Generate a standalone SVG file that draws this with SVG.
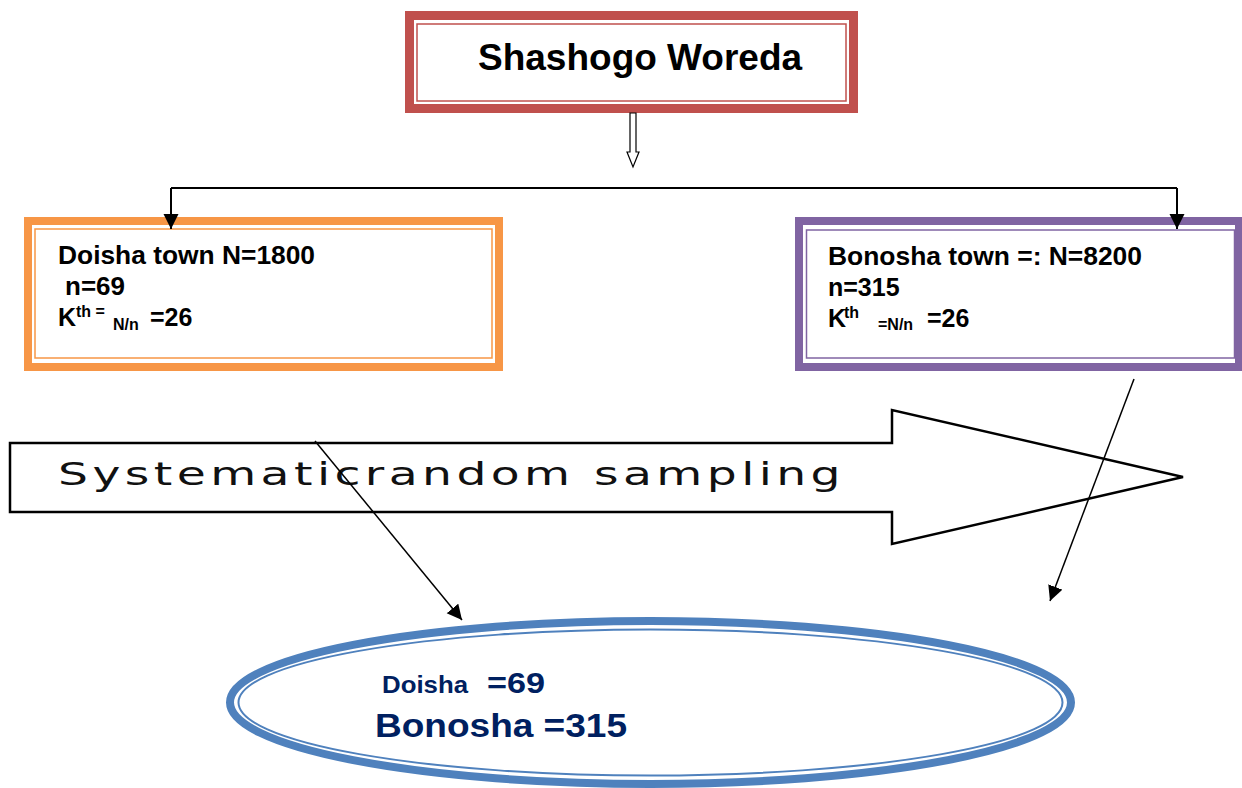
<svg xmlns="http://www.w3.org/2000/svg" width="1242" height="788" viewBox="0 0 1242 788">
<style>
  .b { font-family: "Liberation Sans", Arial, sans-serif; font-weight: bold; fill: #000; }
  .navy { font-family: "Liberation Sans", Arial, sans-serif; font-weight: bold; fill: #002060; }
  .conn { stroke: #000; stroke-width: 2; fill: none; }
  .diag { stroke: #000; stroke-width: 1.5; fill: none; }
</style>
<defs>
  <marker id="ah" markerUnits="userSpaceOnUse" markerWidth="16" markerHeight="16" refX="15" refY="7.5" orient="auto">
    <path d="M0,0 L15,7.5 L0,15 Z" fill="#000"/>
  </marker>
</defs>
<rect width="1242" height="788" fill="#fff"/>

<g id="woreda">
  <rect x="409.5" y="15.5" width="444" height="93" fill="#fff" stroke="#C0504D" stroke-width="9"/>
  <rect x="417" y="24" width="429" height="77" fill="none" stroke="#C0504D" stroke-width="1.5"/>
  <text class="b" x="478" y="70" font-size="37">Shashogo Woreda</text>
</g>

<g id="doisha-town">
  <rect x="28" y="221" width="471" height="146" fill="#fff" stroke="#F79646" stroke-width="8"/>
  <rect x="35" y="229" width="457" height="129" fill="none" stroke="#F79646" stroke-width="1.5"/>
  <text class="b" x="58" y="264" font-size="25" textLength="257" lengthAdjust="spacingAndGlyphs">Doisha town N=1800</text>
  <text class="b" x="65" y="295" font-size="25" textLength="60" lengthAdjust="spacingAndGlyphs">n=69</text>
  <text class="b" x="58" y="326" font-size="25">K</text>
  <text class="b" x="76" y="317" font-size="16">th =</text>
  <text class="b" x="113" y="330" font-size="16">N/n</text>
  <text class="b" x="150" y="326" font-size="25">=26</text>
</g>

<g id="bonosha-town">
  <rect x="799" y="221" width="440" height="146" fill="#fff" stroke="#8064A2" stroke-width="8"/>
  <rect x="806.5" y="230" width="428" height="128" fill="none" stroke="#8064A2" stroke-width="1.5"/>
  <text class="b" x="828" y="265" font-size="25" textLength="314" lengthAdjust="spacingAndGlyphs">Bonosha town =: N=8200</text>
  <text class="b" x="828" y="296" font-size="25">n=315</text>
  <text class="b" x="828" y="327" font-size="25">K</text>
  <text class="b" x="844" y="318" font-size="16">th</text>
  <text class="b" x="878" y="330" font-size="16">=N/n</text>
  <text class="b" x="927" y="327" font-size="25">=26</text>
</g>

<g id="sampling-arrow">
  <polygon points="10,443 892,443 892,410 1183,477 892,544 892,512 10,512" fill="#fff" stroke="#000" stroke-width="2.5" stroke-linejoin="miter"/>
  <text x="58" y="485" font-family="DejaVu Sans, Verdana, sans-serif" font-size="32" fill="#111" letter-spacing="3" textLength="787" lengthAdjust="spacingAndGlyphs">Systematicrandom sampling</text>
</g>

<g id="result">
  <ellipse cx="650.5" cy="702.5" rx="420.5" ry="81.5" fill="#fff" stroke="#4F81BD" stroke-width="8"/>
  <ellipse cx="650.5" cy="702.5" rx="412" ry="73" fill="none" stroke="#4F81BD" stroke-width="2"/>
  <text class="navy" x="382" y="693" font-size="24" textLength="86" lengthAdjust="spacingAndGlyphs">Doisha</text>
  <text class="navy" x="487" y="693" font-size="30" textLength="58" lengthAdjust="spacingAndGlyphs">=69</text>
  <text class="navy" x="375" y="737" font-size="34" textLength="252" lengthAdjust="spacingAndGlyphs">Bonosha =315</text>
</g>

<g id="connectors">
  <polygon points="630,113 636,113 636,152 639,152 633,167 627,152 630,152" fill="#fff" stroke="#000" stroke-width="1.2"/>
  <line class="conn" x1="171" y1="188" x2="1177" y2="188"/>
  <line class="conn" x1="171" y1="188" x2="171" y2="229" marker-end="url(#ah)"/>
  <line class="conn" x1="1177" y1="188" x2="1177" y2="229" marker-end="url(#ah)"/>
  <line class="diag" x1="315" y1="441" x2="462" y2="620" marker-end="url(#ah)"/>
  <line class="diag" x1="1134" y1="379" x2="1050" y2="601" marker-end="url(#ah)"/>
</g>
</svg>
